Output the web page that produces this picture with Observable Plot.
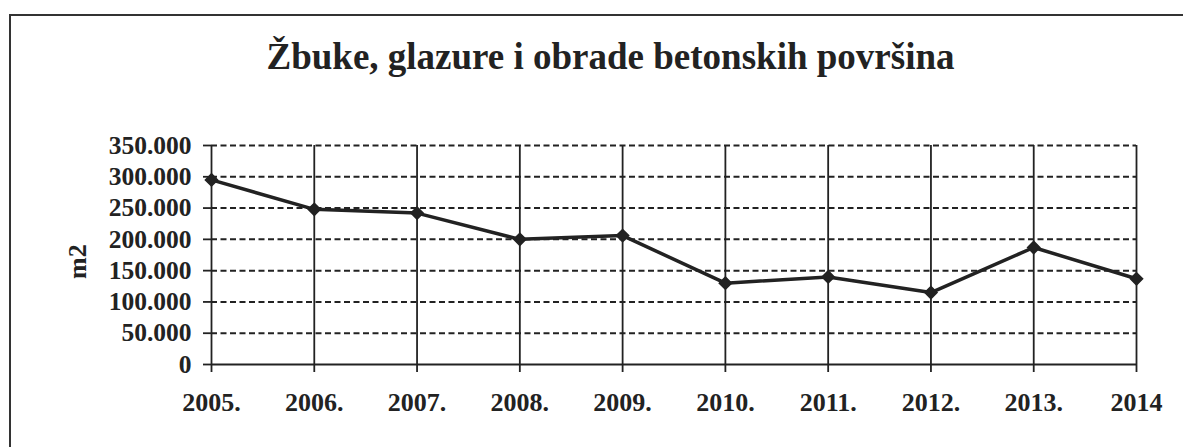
<!DOCTYPE html>
<html>
<head>
<meta charset="utf-8">
<script src="https://cdn.jsdelivr.net/npm/d3@7"></script>
<script src="https://cdn.jsdelivr.net/npm/@observablehq/plot@0.6"></script>
<style>
  html, body { margin: 0; padding: 0; background: #fff; }
  #wrap { position: relative; width: 1183px; height: 447px; overflow: hidden; }
  #border { position: absolute; left: 9px; top: 14px; width: 1200px; height: 460px;
            border-left: 2px solid #333; border-top: 2px solid #333; box-sizing: border-box; }
  #chart { position: absolute; left: 0; top: 0; }
</style>
</head>
<body>
<div id="wrap"><div id="border"></div><div id="chart"></div></div>
<script>
const title = "Žbuke, glazure i obrade betonskih površina";
const yLabel = "m2";
const years = [2005, 2006, 2007, 2008, 2009, 2010, 2011, 2012, 2013, 2014];
const xLabels = ["2005.", "2006.", "2007.", "2008.", "2009.", "2010.", "2011.", "2012.", "2013.", "2014"];
const values = [295000, 248000, 242000, 200000, 206000, 130000, 140000, 115000, 187000, 137000];
const yTicks = [0, 50000, 100000, 150000, 200000, 250000, 300000, 350000];
const yLabels = ["0", "50.000", "100.000", "150.000", "200.000", "250.000", "300.000", "350.000"];

const data = years.map((year, i) => ({year, value: values[i]}));
const ink = "#222222";
const font = "'Liberation Serif', 'Times New Roman', serif";

const chart = Plot.plot({
  width: 1183,
  height: 447,
  marginLeft: 211,
  marginRight: 47,
  marginTop: 145,
  marginBottom: 83,
  style: {fontFamily: font, fontWeight: "bold", fontSize: "25px", color: ink, background: "transparent", overflow: "visible"},
  x: {type: "linear", domain: [2005, 2014]},
  y: {domain: [0, 350000]},
  marks: [
    Plot.ruleY(yTicks.filter(d => d > 0), {stroke: ink, strokeWidth: 2, strokeDasharray: "6,3.5"}),
    Plot.ruleX(years, {y1: 0, y2: 350000, stroke: ink, strokeWidth: 1.8}),
    Plot.ruleY([0], {stroke: ink, strokeWidth: 2}),
    Plot.axisX({ticks: years, tickSize: 8, tickPadding: 20, stroke: ink, strokeWidth: 1.8,
      tickFormat: d => xLabels[years.indexOf(d)], fontSize: 26, fontWeight: "bold", fill: ink, label: null}),
    Plot.axisY({ticks: yTicks, tickSize: 8, tickPadding: 12, stroke: ink, strokeWidth: 1.8,
      tickFormat: d => yLabels[yTicks.indexOf(d)], fontSize: 25.5, fontWeight: "bold", fill: ink, label: null}),
    Plot.line(data, {x: "year", y: "value", stroke: ink, strokeWidth: 3.5}),
    Plot.dot(data, {x: "year", y: "value", symbol: "diamond2", r: 5.5, fill: ink, stroke: ink}),
    Plot.text([yLabel], {frameAnchor: "left", dx: -134, dy: 24, rotate: -90, fontSize: 26, fontWeight: "bold", fill: ink}),
    Plot.text([title], {frameAnchor: "top-left", dx: 399, dy: -77, textAnchor: "middle", lineAnchor: "bottom", fontSize: 37, fontWeight: "bold", fill: ink})
  ]
});
document.getElementById("chart").appendChild(chart);
</script>
</body>
</html>
